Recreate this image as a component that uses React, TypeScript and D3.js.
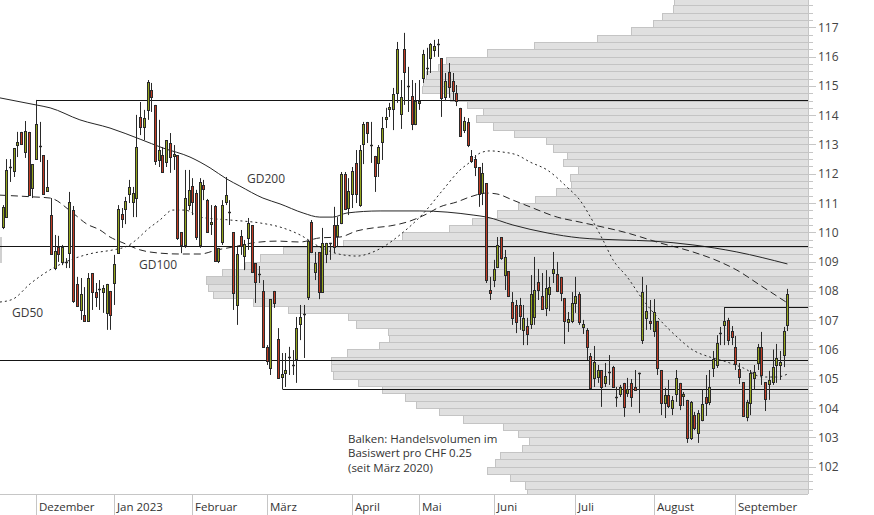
import React from "react";
import * as d3 from "d3";

// ---------- DATA ----------
// trading-day index of first candle (0 = 1 Dez 2022)
const FIRST_INDEX = -9;
// [open, high, low, close] per trading day
const candles: number[][] = [
  [110.18,110.93,110.11,110.87],[110.52,112.50,110.49,112.13],[112.22,112.50,111.72,112.24],[112.09,112.88,111.89,112.88],
  [112.98,113.43,112.57,113.08],[113.43,113.43,112.98,113.02],[112.74,113.80,112.54,113.46],[113.43,113.43,111.27,111.27],
  [111.51,112.33,111.17,112.33],
  // Dez
  [112.50,114.52,112.47,113.70],[112.94,113.77,112.40,112.96],[112.64,112.64,111.31,111.31],[111.41,112.47,111.41,111.55],
  [110.59,111.17,109.26,109.26],[108.78,109.91,108.71,109.36],[109.50,109.88,108.99,109.26],[108.99,109.57,108.88,109.50],
  [108.95,109.12,108.78,108.97],[109.29,111.38,108.78,111.04],[110.76,110.90,107.59,107.65],[108.24,108.48,107.45,107.49],
  [107.35,108.44,107.01,107.90],[107.18,108.13,106.94,106.97],[106.97,108.61,106.94,108.44],[108.61,108.61,107.35,107.96],
  [107.96,108.27,107.45,107.79],[108.06,108.37,107.35,108.08],[107.96,108.20,107.25,108.10],[107.25,108.24,106.67,108.24],
  [108.00,108.00,106.67,107.18],
  // Jan
  [108.27,109.23,107.52,108.92],[109.29,110.93,109.29,110.80],[110.63,110.83,110.15,110.46],[110.80,111.21,110.28,111.07],
  [111.31,111.79,111.00,111.55],[111.04,111.55,110.52,111.34],[111.17,114.01,110.52,112.91],[113.94,114.45,113.32,113.60],
  [113.60,114.18,113.15,113.90],[114.18,115.20,113.84,115.13],[114.86,115.10,114.11,114.62],[114.35,114.35,112.30,112.43],
  [112.47,113.84,112.23,112.81],[112.64,112.91,112.03,112.06],[112.40,113.15,112.23,113.15],[113.05,113.39,112.03,112.57],
  [112.61,112.98,112.13,112.67],[112.64,112.64,109.74,109.81],[110.01,110.01,109.29,109.57],[109.57,112.13,109.47,111.17],
  [110.93,112.13,110.76,111.45],
  // Feb
  [111.58,111.85,110.59,111.04],[111.34,111.45,109.74,109.84],[109.57,111.85,109.47,111.72],[111.62,111.79,111.10,111.48],
  [111.10,111.14,110.01,110.01],[110.28,110.93,109.91,110.35],[110.90,110.93,108.99,109.02],[109.02,109.47,108.95,109.47],
  [109.67,111.10,109.57,110.93],[111.04,111.89,110.93,111.27],[110.69,111.10,110.25,110.71],[110.01,110.01,107.35,107.93],
  [107.52,109.50,106.84,109.26],[109.88,110.08,109.23,109.53],[109.19,109.74,108.71,109.60],[109.81,110.49,109.40,110.32],
  [110.25,110.25,108.61,108.65],[108.95,108.95,107.59,108.30],[108.58,108.85,108.27,108.56],[108.00,108.37,106.09,106.09],
  // Mär
  [106.09,106.15,105.47,105.61],[105.37,107.72,105.13,107.72],[108.00,108.00,107.42,107.59],[106.36,106.73,105.03,105.03],
  [105.06,105.88,104.65,105.16],[105.20,105.88,104.72,105.30],[105.71,106.09,105.13,105.73],[105.44,105.98,105.13,105.46],
  [105.68,107.11,104.86,106.73],[106.87,107.52,106.32,107.11],[107.20,107.52,105.71,107.22],[107.79,109.74,107.69,109.70],
  [110.35,110.42,109.29,109.33],[108.65,109.33,108.37,108.95],[109.33,109.33,107.72,107.96],[107.96,110.15,107.93,109.64],
  [109.26,109.64,108.95,109.64],[109.60,109.64,109.06,109.62],[110.25,110.87,109.29,109.50],[109.88,110.52,109.50,110.25],
  [110.32,112.06,110.28,111.99],[111.99,112.06,110.76,110.80],[110.83,111.85,110.59,111.41],
  // Apr
  [111.31,112.23,110.83,112.09],[112.37,112.81,111.00,111.31],[110.93,112.98,110.87,112.81],[113.02,113.77,112.33,113.70],
  [113.77,113.77,113.05,113.39],[112.97,113.77,112.37,112.99],[112.61,112.61,111.38,111.92],[112.37,112.98,111.89,112.91],
  [113.08,113.94,112.47,113.56],[113.87,114.25,113.56,113.94],[114.21,114.42,113.94,114.28],[114.21,114.93,113.49,114.72],
  [114.76,116.50,114.42,116.26],[114.04,115.20,113.53,114.62],[116.26,116.81,114.35,115.47],[114.99,115.65,114.11,115.01],
  [114.65,115.20,113.49,113.70],[113.70,115.10,113.66,114.48],
  // Mai
  [114.42,115.20,114.18,114.48],[115.27,116.23,115.10,116.09],[115.60,116.30,115.37,115.62],[115.95,116.46,115.44,116.43],
  [116.23,116.57,115.99,116.36],[116.42,116.60,115.99,116.44],[115.95,115.95,113.94,114.59],[114.62,115.44,114.48,115.17],
  [115.47,115.78,114.59,114.96],[115.17,115.44,114.52,114.83],[114.76,115.03,114.31,114.48],[114.25,114.25,113.26,113.29],
  [113.49,113.94,113.39,113.80],[113.77,113.90,112.91,112.98],[112.61,112.81,112.37,112.43],[112.50,112.64,111.92,112.23],
  [112.23,112.23,110.87,111.31],[111.34,112.37,110.93,112.03],[111.68,111.68,108.27,108.37],[108.03,108.48,107.69,107.93],
  // Jun
  [108.37,109.06,108.13,108.75],[108.82,109.84,108.78,109.57],[109.84,109.84,109.06,109.12],[108.54,109.40,108.03,109.16],
  [108.68,108.68,107.79,107.83],[107.62,107.96,106.84,107.08],[107.52,107.69,106.56,106.94],[107.52,107.76,106.67,107.14],
  [106.67,107.52,106.15,107.08],[106.80,107.08,106.15,106.53],[106.87,108.54,106.70,107.90],[107.11,109.16,106.84,108.03],
  [108.30,108.75,107.69,108.03],[107.83,108.61,107.35,107.38],[107.42,108.71,107.14,108.10],[107.90,108.48,107.31,108.13],
  [108.61,109.33,108.27,108.75],[108.58,108.99,107.96,108.00],[108.48,108.48,107.65,107.93],[107.76,107.76,106.19,106.97],
  [106.94,107.28,106.60,107.04],[106.97,107.96,106.90,107.59],
  // Jul
  [107.59,108.48,107.25,107.83],[107.90,107.96,106.84,106.94],[106.77,107.01,106.53,106.87],[106.67,106.73,105.64,106.09],
  [105.78,105.88,104.69,104.69],[105.03,106.12,104.72,105.57],[105.06,105.47,104.86,105.30],[105.30,105.30,104.04,104.72],
  [104.86,105.54,104.72,105.10],[105.22,105.81,104.79,105.24],[105.40,105.44,104.72,104.72],[104.37,104.72,104.04,104.39],
  [104.48,104.79,104.38,104.72],[104.86,104.86,103.70,104.04],[104.51,105.03,104.38,104.65],[104.86,104.99,104.04,104.38],
  [104.72,105.30,104.62,104.62],[105.19,105.21,103.83,105.21],[106.32,108.48,106.19,107.96],[107.08,108.20,106.67,107.31],
  [106.97,107.69,106.67,106.90],
  // Aug
  [106.63,107.72,106.43,107.28],[106.97,106.97,105.13,105.37],[105.30,105.30,103.76,104.17],[104.17,104.69,103.66,104.45],
  [104.45,104.96,104.00,104.07],[104.00,104.41,103.76,104.28],[104.48,105.30,104.21,105.03],[104.86,104.86,103.93,104.10],
  [104.41,104.55,104.07,104.48],[104.28,104.28,102.81,102.98],[102.98,104.24,102.91,104.21],[103.76,103.87,103.25,103.32],
  [103.15,103.93,102.81,103.83],[103.59,104.65,103.55,104.14],[104.38,105.13,103.73,104.17],[104.21,105.30,104.10,104.72],
  [105.37,105.95,105.06,105.68],[105.47,106.49,105.37,106.22],[106.54,106.77,106.15,106.56],[106.84,107.45,106.15,106.97],
  [107.01,107.08,106.15,106.32],[106.63,106.80,106.15,106.43],
  // Sep
  [106.09,106.46,105.30,105.50],[105.33,105.54,104.82,105.06],[104.89,104.89,103.70,103.73],[103.70,104.28,103.55,104.21],
  [104.17,105.30,103.76,105.20],[105.03,105.47,104.62,105.23],[105.54,106.19,105.30,106.09],[106.09,106.60,104.79,105.13],
  [104.89,104.89,103.90,104.31],[104.82,105.27,104.28,104.96],[104.89,106.00,104.79,105.40],[105.47,106.19,104.86,105.71],
  [105.47,105.95,104.96,105.57],[105.81,106.77,105.40,106.63],[106.84,108.07,106.63,107.90],
];

// moving averages, read at [trading-day index, value]
const gd200: [number, number][] = [
  [-9.7,114.59],[0,114.35],[3.8,114.25],[11.8,113.84],[19.9,113.56],[28,113.18],[34.1,112.88],[41.4,112.57],
  [46.8,112.20],[51.3,111.82],[54.8,111.58],[61,111.17],[65.6,110.97],[71.8,110.66],[76.3,110.52],[79.8,110.52],
  [83.6,110.66],[92.5,110.73],[103.2,110.73],[110.5,110.69],[117.5,110.59],[121.2,110.52],[128.2,110.25],
  [137.4,109.98],[146.2,109.81],[157,109.74],[165.9,109.70],[176.6,109.57],[188.4,109.33],[202,108.92],
];
const gd100: [number, number][] = [
  [-9.7,111.27],[-0.8,111.21],[3.8,111.17],[9.9,110.66],[13.7,110.28],[17.2,110.08],[19.9,109.84],[23.4,109.64],
  [28,109.40],[33.3,109.29],[38.7,109.26],[44.1,109.26],[48.7,109.40],[53,109.50],[58.3,109.64],[64.8,109.70],
  [71,109.67],[76.3,109.81],[81.7,109.84],[86.3,110.05],[90.6,110.15],[95.2,110.22],[99.7,110.35],[105.1,110.63],
  [108.6,110.87],[113.2,111.04],[116.7,111.21],[121.2,111.34],[123.9,111.31],[128.2,111.10],[132.8,110.87],
  [140.1,110.52],[146.2,110.35],[158.9,109.98],[167.7,109.64],[176.6,109.33],[183.9,108.99],[188.4,108.71],
  [194.6,108.20],[202,107.59],
];
const gd50: [number, number][] = [
  [-9.7,107.62],[-6.2,107.72],[-1.6,108.24],[4.6,108.78],[9.9,109.09],[15.3,109.29],[20.7,109.40],[24.5,109.53],
  [27.2,109.77],[29.8,110.08],[33.3,110.42],[36.8,110.76],[40.1,110.76],[44.1,110.52],[52.2,110.42],[60.2,110.32],
  [65.6,110.18],[71,109.91],[76.3,109.50],[82.5,109.23],[86.3,109.19],[89.8,109.29],[93.3,109.50],[97.8,109.91],
  [104,110.63],[109.4,111.45],[114,112.13],[116.7,112.40],[119.4,112.71],[122,112.78],[125.5,112.74],[129.3,112.64],
  [132.8,112.40],[137.4,112.13],[142.7,111.55],[146.2,111.10],[149.5,110.42],[152.4,109.74],[155.1,109.06],
  [158.9,108.48],[163.2,107.69],[167.7,107.01],[172.3,106.43],[176.6,105.98],[181.2,105.74],[185.8,105.57],
  [190.1,105.37],[195.4,105.06],[199.2,105.06],[202,105.16],
];

// volume profile: bins of CHF 0.25, lower bound 101.00 ... 117.75
const BIN_START = 101.0;
const BIN_SIZE = 0.25;
const volume = [
  2.81,2.83,2.98,3.21,3.13,3.08,2.86,2.79,2.90,3.05,3.45,3.69,3.92,4.03,4.26,4.50,
  4.75,4.77,4.77,4.61,4.29,4.19,4.20,4.52,4.60,5.20,5.55,5.95,6.00,6.02,5.86,5.63,
  5.48,5.25,4.65,4.06,3.59,3.36,3.11,2.90,2.73,2.52,2.37,2.38,2.30,2.45,2.41,2.55,
  2.62,2.94,3.15,3.32,3.25,3.41,3.58,3.86,3.85,3.82,3.70,3.62,3.21,2.74,2.11,1.77,
  1.55,1.46,1.35,1.34,
];
const highlightBin = 108.25;

// horizontal levels and the trading-day index where each starts (null = whole width)
const levelValues = [114.52, 109.53, 105.64, 104.65, 107.45];
const levelStart: (number | null)[] = [0, null, null, 66, 185];

const monthStart = [0, 21, 42, 62, 85, 103, 123, 145, 166, 188];
const monthLabels = ["Dezember", "Jan 2023", "Februar", "März", "April", "Mai", "Juni", "Juli", "August", "September"];
const priceTicks = [102, 103, 104, 105, 106, 107, 108, 109, 110, 111, 112, 113, 114, 115, 116, 117];

const noteLines = ["Balken: Handelsvolumen im", "Basiswert pro CHF 0.25", "(seit März 2020)"];

// ---------- CHART ----------
const W = 874, H = 515;
const PLOT_R = 808, PLOT_B = 494;
const UP = "#93a41c", DOWN = "#c13b24", INK = "#2a2a2a";
const FONT = "'Open Sans','Noto Sans',sans-serif";
const FS = 11.5;

export default function App() {
  const x = d3.scaleLinear().domain([0, 188]).range([36, 735.36]);
  const y = d3.scaleLinear().domain([102, 117]).range([466.65, 27.3]);
  const vx = d3.scaleLinear().domain([0, 6.02]).range([PLOT_R, 206]);
  const line = d3.line<[number, number]>().x(d => x(d[0])).y(d => y(d[1])).curve(d3.curveMonotoneX);
  const minorTicks = d3.range(0, 68).map(k => BIN_START + (k + 1) * BIN_SIZE).filter(v => v < 117.9);

  return (
    <svg width={W} height={H} style={{ position: "absolute", left: 0, top: 0, background: "#fff" }}
      fontFamily={FONT}>
      <defs>
        <clipPath id="plot"><rect x={0} y={0} width={PLOT_R} height={PLOT_B} /></clipPath>
      </defs>
      <g clipPath="url(#plot)">
        {/* volume profile */}
        {volume.map((v, k) => {
          const lo = BIN_START + k * BIN_SIZE;
          const yt = Math.round(y(lo + BIN_SIZE)) + 0.5;
          const yb = Math.round(y(lo)) + 0.5;
          return (
            <rect key={k} x={Math.round(vx(v)) + 0.5} y={yt} width={PLOT_R - Math.round(vx(v))} height={yb - yt}
              fill={Math.abs(lo - highlightBin) < 1e-6 ? "#d5d5d5" : "#e0e0e0"} stroke="#c4c4c4" strokeWidth={1} />
          );
        })}
        <rect x={0} y={237} width={2} height={26} fill="#d0d0d0" />
        {/* moving averages */}
        <path d={line(gd200) || ""} fill="none" stroke="#262626" strokeWidth={1} />
        <path d={line(gd100) || ""} fill="none" stroke="#262626" strokeWidth={1} strokeDasharray="7,4" />
        <path d={line(gd50) || ""} fill="none" stroke="#262626" strokeWidth={1} strokeDasharray="2,3" />
        {/* levels */}
        {levelValues.map((v, k) => {
          const s = levelStart[k];
          const yl = Math.round(y(v)) + 0.5;
          const x0 = s === null ? 0 : Math.round(x(s)) + 0.5;
          return <line key={k} x1={x0} x2={PLOT_R} y1={yl} y2={yl} stroke="#151515" strokeWidth={1.2} />;
        })}
        {/* candles */}
        {candles.map((c, k) => {
          const i = FIRST_INDEX + k;
          const [o, h, l, cl] = c;
          const cx = Math.round(x(i)) + 0.5;
          const yo = y(o), yc = y(cl);
          const top = Math.round(Math.min(yo, yc)), bot = Math.round(Math.max(yo, yc));
          const up = cl >= o;
          return (
            <g key={k}>
              <line x1={cx} x2={cx} y1={y(h)} y2={y(l)} stroke={INK} strokeWidth={1} />
              {bot - top < 2 ? (
                <line x1={cx - 1.5} x2={cx + 1.5} y1={top + 0.5} y2={top + 0.5} stroke={INK} strokeWidth={1.4} />
              ) : (
                <rect x={cx - 1} y={top + 0.5} width={2} height={bot - top} fill={up ? UP : DOWN} stroke={INK} strokeWidth={1} />
              )}
            </g>
          );
        })}
      </g>

      {/* MA labels */}
      <text x={247} y={183} fontSize={FS + 0.5} fill="#3a3a3a">GD200</text>
      <text x={139} y={269} fontSize={FS + 0.5} fill="#3a3a3a">GD100</text>
      <text x={12} y={317} fontSize={FS + 0.5} fill="#3a3a3a">GD50</text>

      {/* note */}
      {noteLines.map((t, k) => (
        <text key={k} x={348} y={443 + k * 14.3} fontSize={FS} fill="#333">{t}</text>
      ))}

      {/* right axis */}
      <line x1={PLOT_R + 0.5} x2={PLOT_R + 0.5} y1={0} y2={PLOT_B} stroke="#c6c6c6" />
      {minorTicks.map((v, k) => {
        const major = Math.abs(v - Math.round(v)) < 1e-6;
        const yy = Math.round(y(v)) + 0.5;
        return <line key={k} x1={PLOT_R} x2={PLOT_R + (major ? 8 : 5)} y1={yy} y2={yy} stroke="#c6c6c6" />;
      })}
      {priceTicks.map(v => (
        <text key={v} x={818} y={y(v) + 4.5} fontSize={FS + 0.5} fill="#444">{v}</text>
      ))}

      {/* bottom axis */}
      <line x1={0} x2={PLOT_R} y1={PLOT_B + 0.5} y2={PLOT_B + 0.5} stroke="#c6c6c6" />
      {monthStart.map((i, k) => {
        const tx = Math.round(x(i)) + 0.5;
        return (
          <g key={k}>
            <line x1={tx} x2={tx} y1={PLOT_B} y2={H} stroke="#c6c6c6" />
            <text x={tx + 2.5} y={511} fontSize={FS} fill="#333">{monthLabels[k]}</text>
          </g>
        );
      })}
    </svg>
  );
}
